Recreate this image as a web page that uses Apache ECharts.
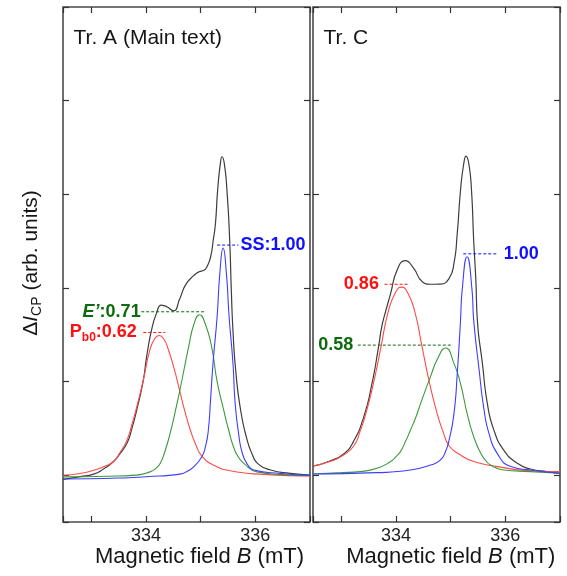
<!DOCTYPE html>
<html>
<head>
<meta charset="utf-8">
<script src="https://cdn.jsdelivr.net/npm/echarts@6/dist/echarts.min.js"></script>
<style>
  html, body { margin: 0; padding: 0; background: #fff; }
  #main { width: 567px; height: 576px; }
</style>
</head>
<body>
<div id="main"></div>
<script>
// Field axis tick labels (mT)
const xTickLabels = [334, 336];

// Tr. A spectra: [B (mT), intensity relative to the SS amplitude]
const trATotal = [
  [332.48,-0.006],[332.79,0.006],[333.04,0.017],[333.22,0.039],[333.40,0.071],[333.52,0.105],
  [333.65,0.151],[333.74,0.215],[333.83,0.296],[333.95,0.426],[334.01,0.527],[334.10,0.643],[334.19,0.716],
  [334.28,0.752],[334.38,0.745],[334.50,0.727],[334.62,0.782],[334.72,0.839],[334.87,0.88],
  [334.97,0.897],[335.06,0.903],[335.12,0.922],[335.18,0.96],[335.23,1.035],[335.27,1.107],
  [335.31,1.252],[335.36,1.368],[335.39,1.397],[335.43,1.37],[335.48,1.252],[335.53,1.035],
  [335.56,0.817],[335.59,0.643],[335.64,0.47],[335.73,0.296],[335.85,0.165],[335.94,0.105],[336.04,0.064],
  [336.28,0.035],[336.64,0.02],[337.0,0.013]
];
const trAPb0 = [
  [332.48,0.012],[332.79,0.02],[333.03,0.033],[333.22,0.049],[333.40,0.071],[333.52,0.11],
  [333.65,0.165],[333.74,0.232],[333.83,0.31],[333.95,0.426],[334.07,0.557],[334.16,0.607],[334.24,0.62],
  [334.32,0.607],[334.41,0.557],[334.52,0.47],[334.62,0.375],[334.71,0.29],[334.81,0.209],[334.91,0.145],
  [335.02,0.096],[335.23,0.057],[335.54,0.032],[336.15,0.016],[337.0,0.009]
];
const trAEprime = [
  [332.48,0.005],[333.3,0.008],[333.83,0.013],[334.07,0.027],[334.17,0.04],[334.26,0.064],[334.35,0.12],
  [334.44,0.194],[334.53,0.285],[334.62,0.383],[334.78,0.571],[334.88,0.672],[334.98,0.71],[335.08,0.672],
  [335.20,0.57],[335.30,0.42],[335.42,0.296],[335.51,0.21],[335.60,0.136],[335.68,0.095],[335.79,0.064],
  [336.03,0.027],[336.5,0.015],[337.0,0.011]
];
const trASS = [
  [332.48,-0.004],[333.5,0.0],[334.0,0.006],[334.62,0.017],[334.77,0.032],[334.87,0.049],[335.02,0.093],
  [335.09,0.14],[335.14,0.209],[335.18,0.34],[335.23,0.513],[335.30,0.70],[335.35,0.89],[335.41,1.0],
  [335.47,0.89],[335.52,0.70],[335.59,0.50],[335.63,0.326],[335.69,0.20],[335.76,0.109],
  [335.86,0.058],[335.97,0.035],[336.46,0.02],[337.0,0.013]
];

// Tr. C spectra
const trCTotal = [
  [332.48,0.036],[332.79,0.06],[333.04,0.092],[333.22,0.149],[333.41,0.264],[333.56,0.417],
  [333.68,0.586],[333.74,0.68],[333.80,0.74],[333.90,0.83],[334.02,0.939],[334.17,0.982],
  [334.32,0.947],[334.48,0.885],[334.63,0.873],[334.81,0.874],[334.97,0.90],[335.06,0.97],
  [335.12,1.108],[335.18,1.307],[335.24,1.43],[335.28,1.463],[335.33,1.43],[335.38,1.307],
  [335.42,1.077],[335.46,0.893],[335.49,0.70],[335.58,0.509],[335.67,0.325],[335.79,0.202],
  [335.97,0.11],[336.22,0.049],[336.46,0.023],[336.77,0.011],[337.0,0.003]
];
const trCPb0 = [
  [332.48,0.037],[332.79,0.057],[333.04,0.087],[333.23,0.13],[333.34,0.195],[333.45,0.28],[333.60,0.433],
  [333.725,0.586],[333.85,0.74],[333.98,0.83],[334.10,0.86],[334.22,0.83],[334.35,0.74],
  [334.475,0.586],[334.60,0.433],[334.75,0.28],[334.86,0.195],[334.97,0.13],[335.18,0.087],[335.42,0.057],
  [335.85,0.034],[336.46,0.015],[337.0,0.011]
];
const trCEprime = [
  [332.48,0.0],[333.0,0.006],[333.34,0.011],[333.65,0.026],[333.90,0.057],[333.99,0.078],[334.08,0.103],
  [334.17,0.148],[334.26,0.20],[334.36,0.26],[334.45,0.325],[334.63,0.448],[334.76,0.53],[334.905,0.58],
  [335.06,0.509],[335.18,0.415],[335.30,0.279],[335.42,0.172],[335.55,0.095],[335.64,0.062],[335.73,0.041],
  [335.97,0.018],[336.46,0.011],[337.0,0.003]
];
const trCSS = [
  [332.48,0.0],[333.65,0.006],[334.26,0.018],[334.63,0.041],[334.81,0.064],[334.90,0.10],[334.97,0.156],
  [335.06,0.279],[335.12,0.463],[335.18,0.709],[335.21,0.847],[335.30,1.0],[335.39,0.847],
  [335.42,0.709],[335.52,0.479],[335.61,0.295],[335.70,0.187],[335.85,0.095],[336.10,0.034],
  [336.46,0.018],[337.0,0.003]
];

// Fitted relative amplitudes (P_b0, E', SS) and the field range of each leader line
const trALabelValues = [0.62, 0.71, 1.00];
const trCLabelValues = [0.86, 0.58, 1.00];
const trALeaderFrom = [333.95, 333.91, 335.30];
const trALeaderTo   = [334.35, 335.08, 335.69];
const trCLeaderFrom = [333.79, 333.30, 335.23];
const trCLeaderTo   = [334.21, 335.01, 335.86];

const FONT = '"Liberation Sans", Arial, Helvetica, sans-serif';
const LINE = { total: '#3d3d3d', pb0: '#ff4a4a', eprime: '#3a9a3a', ss: '#3d3dff' };
const TEXT = { pb0: '#ff1010', eprime: '#0d6b0d', ss: '#1010ff' };
const compColors = ['pb0', 'eprime', 'ss'];

const panels = [
  { left: 63, yMin: -0.191, yMax: 2.048, total: trATotal, comps: [trAPb0, trAEprime, trASS],
    values: trALabelValues, from: trALeaderFrom, to: trALeaderTo, title: 'Tr. A (Main text)' },
  { left: 313, yMin: -0.221, yMax: 2.149, total: trCTotal, comps: [trCPb0, trCEprime, trCSS],
    values: trCLabelValues, from: trCLeaderFrom, to: trCLeaderTo, title: 'Tr. C' }
];
const GRID_TOP = 7, GRID_W = 247, GRID_H = 515;
const LEAD_LIFT = 0.013;
const SMOOTH = 0.55;

const tickStyle = { inside: true, length: 6, lineStyle: { color: '#333', width: 1.2 } };
const noLine = { show: false, onZero: false };

const grids = [], xAxes = [], yAxes = [], series = [];
panels.forEach((p, g) => {
  grids.push({ left: p.left, top: GRID_TOP, width: GRID_W, height: GRID_H, show: true,
               borderColor: '#4a4a4a', borderWidth: 1.6, backgroundColor: 'transparent' });
  // bottom and top field axes
  xAxes.push({ gridIndex: g, type: 'value', min: 332.48, max: 337.0, position: 'bottom',
    axisLine: noLine, axisTick: tickStyle, splitLine: { show: false },
    axisLabel: { margin: 5, fontSize: 18, color: '#222', fontFamily: FONT,
      formatter: v => (xTickLabels.indexOf(Math.round(v * 1000) / 1000) >= 0 ? String(v) : '') } });
  xAxes.push({ gridIndex: g, type: 'value', min: 332.48, max: 337.0, position: 'top',
    axisLine: noLine, axisTick: tickStyle, splitLine: { show: false },
    axisLabel: { show: false } });
  // intensity axis carrying the data, plus two tick-only axes on either side
  yAxes.push({ gridIndex: g, type: 'value', min: p.yMin, max: p.yMax, position: 'left', show: false,
    axisLine: noLine });
  ['left', 'right'].forEach(pos => yAxes.push({ gridIndex: g, type: 'value', min: -0.5, max: 5,
    position: pos, axisLine: noLine, axisTick: tickStyle, axisLabel: { show: false },
    splitLine: { show: false } }));

  const base = { type: 'line', xAxisIndex: 2 * g, yAxisIndex: 3 * g, symbol: 'none', showSymbol: false,
                 silent: true, animation: false };
  series.push(Object.assign({}, base, { data: p.total, smooth: SMOOTH,
    lineStyle: { color: LINE.total, width: 1.2 }, z: 2 }));
  p.comps.forEach((d, i) => {
    series.push(Object.assign({}, base, { data: d, smooth: SMOOTH,
      lineStyle: { color: LINE[compColors[i]], width: 1.1 }, z: 3 }));
  });
  p.values.forEach((v, i) => {
    series.push(Object.assign({}, base, {
      data: [[p.from[i], v + LEAD_LIFT], [p.to[i], v + LEAD_LIFT]],
      lineStyle: { color: TEXT[compColors[i]], width: 1, type: [3, 2] }, z: 4 }));
  });
});

const chart = echarts.init(document.getElementById('main'), null, { renderer: 'canvas' });
chart.setOption({
  backgroundColor: '#fff', animation: false,
  grid: grids, xAxis: xAxes, yAxis: yAxes, series: series
});

function bold(color, size) {
  return { fontSize: size || 18, fontWeight: 'bold', fill: color, fontFamily: FONT, lineHeight: 22 };
}
function textEl(x, y, text, rich, align, rotation) {
  return { type: 'text', x: x, y: y, rotation: rotation || 0, silent: true, z: 10,
    style: { text: text, rich: rich, align: align, verticalAlign: 'middle',
             textAlign: align, textVerticalAlign: 'middle', fontFamily: FONT, fontSize: 18 } };
}

const graphics = [];
// relative-amplitude labels beside each leader line
const labelSide = [['left', 'left', 'right'], ['left', 'left', 'right']];
const labelGap = [[6.5, 0.5, 2], [5.7, 4.6, 6]];
panels.forEach((p, g) => {
  p.values.forEach((v, i) => {
    const key = compColors[i];
    const side = labelSide[g][i];
    const ptStart = chart.convertToPixel({ xAxisIndex: 2 * g, yAxisIndex: 3 * g }, [p.from[i], v + LEAD_LIFT]);
    const ptEnd = chart.convertToPixel({ xAxisIndex: 2 * g, yAxisIndex: 3 * g }, [p.to[i], v + LEAD_LIFT]);
    const num = v.toFixed(2);
    const c = TEXT[key];
    let text, rich = { t: bold(c), it: Object.assign(bold(c), { fontStyle: 'italic' }),
      s: Object.assign(bold(c, 12), { lineHeight: 12, verticalAlign: 'bottom' }) };
    if (g === 0) {
      if (key === 'pb0') text = '{t|P}{s|b0}{t|:' + num + '}';
      else if (key === 'eprime') text = '{it|E\u2019}{t|:' + num + '}';
      else text = '{t|SS:' + num + '}';
    } else {
      text = '{t|' + num + '}';
    }
    if (side === 'left') graphics.push(textEl(ptStart[0] - labelGap[g][i], ptStart[1], text, rich, 'right'));
    else graphics.push(textEl(ptEnd[0] + labelGap[g][i], ptEnd[1], text, rich, 'left'));
  });
  // panel title
  graphics.push(textEl(p.left + 10.5, 38, '{r|' + p.title + '}',
    { r: { fontSize: 21, fill: '#161616', fontFamily: FONT } }, 'left'));
});

// axis titles
const axisRich = {
  t: { fontSize: 22, fill: '#161616', fontFamily: FONT },
  i: { fontSize: 22, fill: '#161616', fontFamily: FONT, fontStyle: 'italic' }
};
graphics.push(textEl(199.5, 557, '{t|Magnetic field }{i|B}{t| (mT)}', axisRich, 'center'));
graphics.push(textEl(450.8, 557, '{t|Magnetic field }{i|B}{t| (mT)}', axisRich, 'center'));
graphics.push(textEl(31.5, 263, '{t|\u0394}{i|I}{s|CP}{t| (arb. units)}', {
  t: { fontSize: 21, fill: '#161616', fontFamily: FONT, lineHeight: 26 },
  i: { fontSize: 21, fill: '#161616', fontFamily: FONT, fontStyle: 'italic', lineHeight: 26 },
  s: { fontSize: 14, fill: '#161616', fontFamily: FONT, lineHeight: 14, verticalAlign: 'bottom' }
}, 'center', Math.PI / 2));

chart.setOption({ graphic: { elements: graphics } });
</script>
</body>
</html>
